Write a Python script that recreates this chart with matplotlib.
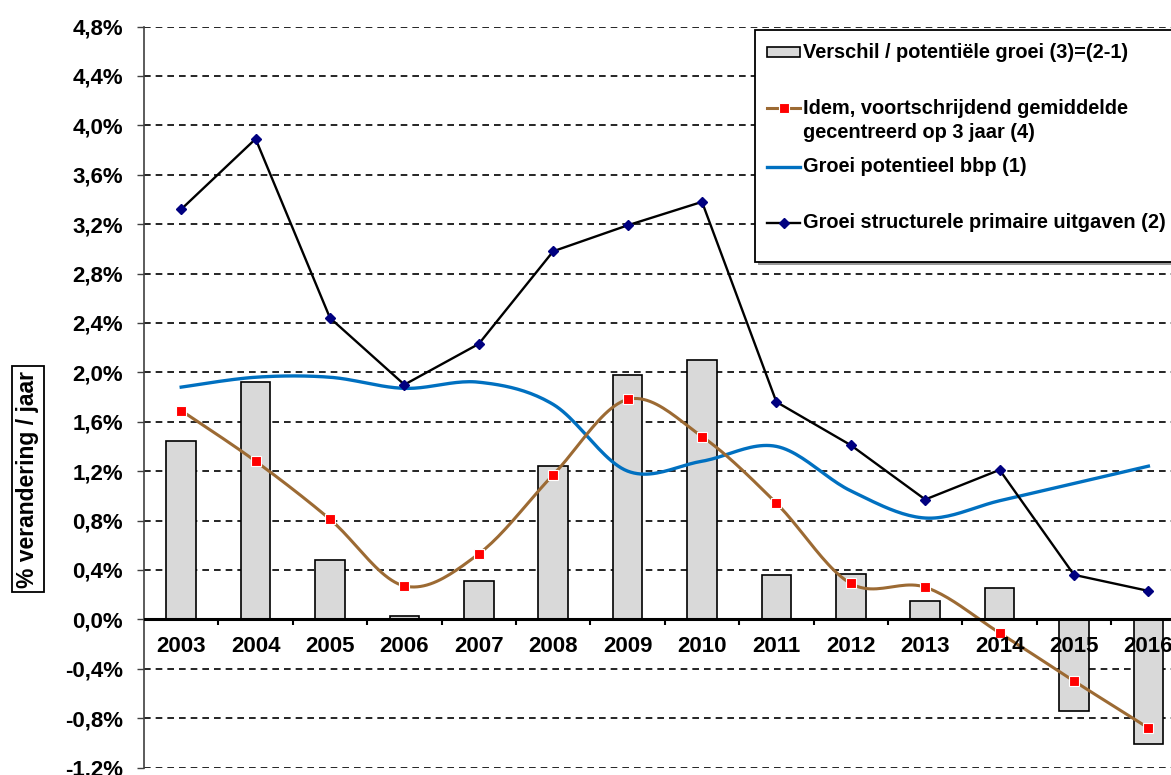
import numpy as np
import matplotlib
matplotlib.use('Agg')
import matplotlib.pyplot as plt
from matplotlib.patches import Rectangle
from matplotlib.lines import Line2D

plt.rcParams['font.family'] = ['Liberation Sans', 'DejaVu Sans']

years = ['2003', '2004', '2005', '2006', '2007', '2008', '2009', '2010',
         '2011', '2012', '2013', '2014', '2015', '2016']
# (3) verschil = (2) - (1)
verschil = [1.44, 1.92, 0.48, 0.03, 0.31, 1.24, 1.98, 2.10,
            0.36, 0.37, 0.15, 0.25, -0.74, -1.01]
# (4) voortschrijdend gemiddelde op 3 jaar
gemiddelde = [1.69, 1.28, 0.81, 0.27, 0.53, 1.17, 1.78, 1.48,
              0.94, 0.29, 0.26, -0.11, -0.50, -0.88]
# (1) groei potentieel bbp
potentieel = [1.88, 1.96, 1.96, 1.87, 1.92, 1.74, 1.20, 1.28,
              1.40, 1.04, 0.82, 0.96, 1.10, 1.24]
# (2) groei structurele primaire uitgaven
uitgaven = [3.32, 3.89, 2.44, 1.90, 2.23, 2.98, 3.19, 3.38,
            1.76, 1.41, 0.97, 1.21, 0.36, 0.23]
yticks = np.arange(-1.2, 4.81, 0.4)

W, H = 1171, 775


def smooth(x, y, n=24):
    # bezier smoothing like a spreadsheet "smoothed line"
    p = np.column_stack([x, y]).astype(float)
    out = []
    for i in range(len(p) - 1):
        p0 = p[i - 1] if i > 0 else p[i]
        p1, p2 = p[i], p[i + 1]
        p3 = p[i + 2] if i + 2 < len(p) else p[i + 1]
        c1 = p1 + (p2 - p0) / 6.0
        c2 = p2 - (p3 - p1) / 6.0
        t = np.linspace(0, 1, n)[:, None]
        seg = ((1 - t) ** 3) * p1 + 3 * ((1 - t) ** 2) * t * c1 + 3 * (1 - t) * t ** 2 * c2 + t ** 3 * p2
        out.append(seg if i == 0 else seg[1:])
    s = np.vstack(out)
    return s[:, 0], s[:, 1]


def fx(px):
    return px / W


def fy(py):
    return 1 - py / H


fig = plt.figure(figsize=(W / 100, H / 100), dpi=100)
ax = fig.add_axes([fx(144), fy(767.5), (1185.6 - 144) / W, (767.5 - 26.5) / H])

x = np.arange(len(years))
ax.bar(x, verschil, width=0.4, color='#D9D9D9', edgecolor='black', linewidth=1.2, zorder=2)

sx, sy = smooth(x, potentieel)
ax.plot(sx, sy, color='#0070C0', linewidth=2.4, zorder=3)

sx, sy = smooth(x, gemiddelde)
ax.plot(sx, sy, color='#9C6A33', linewidth=2.2, zorder=4)
ax.plot(x, gemiddelde, linestyle='none', marker='s', markersize=7, markerfacecolor='#FF0000',
        markeredgecolor='white', markeredgewidth=0.8, zorder=5)

ax.plot(x, uitgaven, color='black', linewidth=1.7, marker='D', markersize=5.5,
        markerfacecolor='#000080', markeredgecolor='#000080', zorder=4)

ax.set_xlim(-0.5, len(years) - 0.5)
ax.set_ylim(-1.2, 4.8)
ax.set_yticks(yticks)
ax.set_yticklabels([('%.1f%%' % v).replace('.', ',').replace('-0,0', '0,0') for v in yticks],
                   fontsize=16, fontweight='bold')
ax.tick_params(axis='y', direction='out', length=5, width=1, color='#404040', pad=10)
ax.set_xticks([])
ax.yaxis.grid(True, linestyle=(0, (4, 3)), color='black', linewidth=1.2, zorder=0)
ax.set_axisbelow(True)
for s in ['top', 'right', 'bottom']:
    ax.spines[s].set_visible(False)
ax.spines['left'].set_color('#404040')
ax.spines['left'].set_linewidth(1.2)

# category axis through zero
ax.axhline(0, color='black', linewidth=2.2, zorder=6)
ax.vlines(x[:-1] + 0.5, -0.05, 0, color='black', linewidth=1.5, zorder=6)
for i, yr in enumerate(years):
    ax.annotate(yr, (i, 0), xytext=(0, -19.7), textcoords='offset points', ha='center',
                va='center', fontsize=16, fontweight='bold', zorder=7, annotation_clip=False)

fig.text(fx(28), fy(479), '% verandering / jaar', rotation=90, ha='center', va='center',
         fontsize=16.5, fontweight='bold',
         bbox=dict(boxstyle='square,pad=0.2', facecolor='white', edgecolor='black', linewidth=1.3))

# legend box
fig.patches.append(Rectangle((fx(758), fy(265)), fx(1180) - fx(758), fy(33) - fy(265),
                             transform=fig.transFigure, facecolor='#9a9a9a', edgecolor='none', zorder=8))
fig.patches.append(Rectangle((fx(755), fy(262)), fx(1180) - fx(755), fy(30) - fy(262),
                             transform=fig.transFigure, facecolor='white', edgecolor='black',
                             linewidth=1.3, zorder=9))
fig.patches.append(Rectangle((fx(767), fy(57)), fx(800) - fx(767), fy(47) - fy(57),
                             transform=fig.transFigure, facecolor='#D9D9D9', edgecolor='black',
                             linewidth=1.2, zorder=10))
fig.lines.append(Line2D([fx(767), fx(800)], [fy(108), fy(108)], transform=fig.transFigure,
                        color='#9C6A33', linewidth=2.2, zorder=10))
fig.lines.append(Line2D([fx(783.5)], [fy(108)], transform=fig.transFigure, marker='s', markersize=7,
                        markerfacecolor='#FF0000', markeredgecolor='white', markeredgewidth=0.8, zorder=11))
fig.lines.append(Line2D([fx(767), fx(800)], [fy(167), fy(167)], transform=fig.transFigure,
                        color='#0070C0', linewidth=2.4, zorder=10))
fig.lines.append(Line2D([fx(767), fx(800)], [fy(223), fy(223)], transform=fig.transFigure,
                        color='black', linewidth=1.7, zorder=10))
fig.lines.append(Line2D([fx(783.5)], [fy(223)], transform=fig.transFigure, marker='D', markersize=5.5,
                        markerfacecolor='#000080', markeredgecolor='#000080', zorder=11))

legend_rows = [('Verschil / potentiële groei (3)=(2-1)', 52),
               ('Idem, voortschrijdend gemiddelde', 108),
               ('gecentreerd op 3 jaar (4)', 132),
               ('Groei potentieel bbp (1)', 167),
               ('Groei structurele primaire uitgaven (2)', 223)]
for txt, py in legend_rows:
    fig.text(fx(803), fy(py), txt, ha='left', va='center', fontsize=14.4, fontweight='bold', zorder=12)

fig.savefig('out.png', dpi=100)
